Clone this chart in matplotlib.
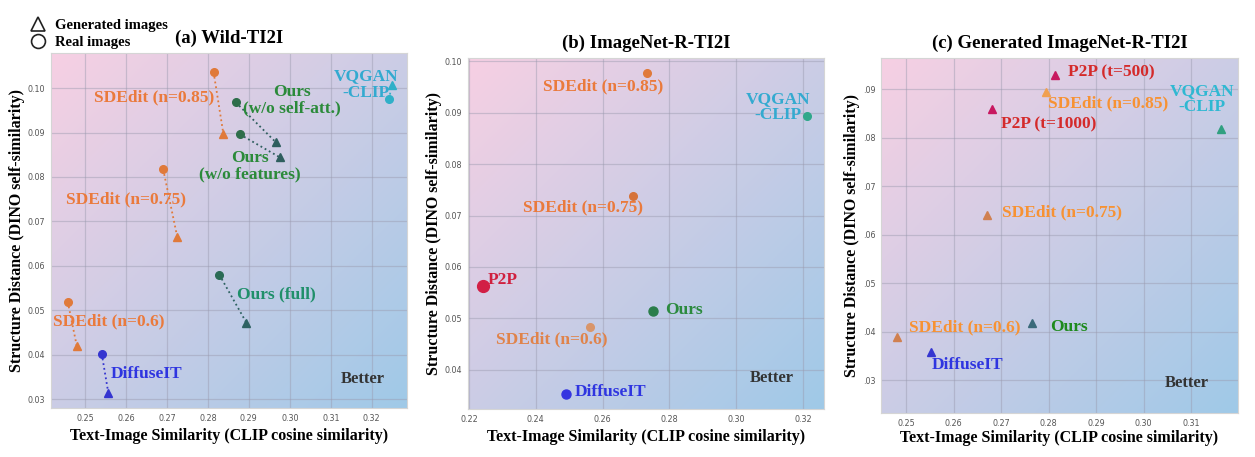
import numpy as np
import matplotlib.pyplot as plt
from matplotlib.lines import Line2D
from matplotlib.colors import to_rgb

plt.rcParams['font.family'] = ['Liberation Serif', 'DejaVu Serif']

# ---- data ----
# (a) Wild-TI2I : real (circle) and generated (triangle) for each method
a_methods = ['SDEdit (n=0.85)', 'Ours (w/o self-att.)', 'Ours (w/o features)', 'VQGAN-CLIP',
             'SDEdit (n=0.75)', 'Ours (full)', 'SDEdit (n=0.6)', 'DiffuseIT']
a_real_x = [0.2814, 0.2868, 0.2878, 0.3242, 0.2691, 0.2828, 0.2458, 0.2541]
a_real_y = [0.1036, 0.0968, 0.0896, 0.0975, 0.0817, 0.0580, 0.0519, 0.0402]
a_gen_x = [0.2838, 0.2966, 0.2976, 0.3249, 0.2725, 0.2894, 0.2480, 0.2557]
a_gen_y = [0.0896, 0.0878, 0.0844, 0.1007, 0.0666, 0.0472, 0.0420, 0.0314]

# (b) ImageNet-R-TI2I : real images only
b_methods = ['SDEdit (n=0.85)', 'VQGAN-CLIP', 'SDEdit (n=0.75)', 'P2P', 'Ours', 'SDEdit (n=0.6)', 'DiffuseIT']
b_real_x = [0.2733, 0.3212, 0.2691, 0.2242, 0.2751, 0.2562, 0.2490]
b_real_y = [0.0977, 0.0893, 0.0738, 0.0563, 0.0515, 0.0484, 0.0353]

# (c) Generated ImageNet-R-TI2I : generated images only
c_methods = ['P2P (t=500)', 'SDEdit (n=0.85)', 'P2P (t=1000)', 'VQGAN-CLIP', 'SDEdit (n=0.75)',
             'SDEdit (n=0.6)', 'Ours', 'DiffuseIT']
c_gen_x = [0.2814, 0.2795, 0.2681, 0.3163, 0.2671, 0.2481, 0.2765, 0.2553]
c_gen_y = [0.0929, 0.0894, 0.0859, 0.0818, 0.0640, 0.0389, 0.0418, 0.0358]

# ---- styles ----
a_mk = ['#e07a3a', '#2e6e4a', '#2e6e4a', '#30b0c8', '#e07a3a', '#2b6b55', '#e07a3a', '#3535d0']
a_tri = ['#e07a3a', '#2e5e5e', '#2e5e5e', '#30b0c8', '#e07a3a', '#2e6262', '#e07a3a', '#3535d0']
b_mk = ['#e07a3a', '#2fa88a', '#d6733a', '#d21f45', '#2a7d4a', '#d9956a', '#3535e0']
b_ms = [5.5, 5.5, 5.5, 8.5, 6.5, 5.5, 6.5]
c_mk = ['#c81860', '#f0a050', '#c81860', '#30a080', '#d08050', '#d08050', '#3a6a7a', '#3535d0']

orange = '#ea7a3c'
orange_c = '#f79233'
green = '#2b8a3a'
teal = '#1f8f6a'
cyan = '#33aad0'
blue = '#2f35e0'
crimson = '#d0203f'
red = '#d42a2a'

bold = dict(fontweight='bold', fontsize=12.5)

fig = plt.figure(figsize=(12.55, 4.57), dpi=100)
ax_a = fig.add_axes([0.0406, 0.1072, 0.2837, 0.7768])
ax_b = fig.add_axes([0.3729, 0.1050, 0.2837, 0.7680])
ax_c = fig.add_axes([0.7020, 0.0963, 0.2845, 0.7768])

pink = np.array(to_rgb('#f7d0e3'))
sky = np.array(to_rgb('#9fc9e8'))
u = np.linspace(0, 1, 200)
t = (u[None, :] + u[:, None]) / 2
grad = pink[None, None, :] * (1 - t[..., None]) + sky[None, None, :] * t[..., None]


def setup(ax, title, xlim, ylim, xticks, yticks, yfmt, xpad=4):
    ax.imshow(grad, extent=[0, 1, 0, 1], transform=ax.transAxes, aspect='auto', zorder=0)
    ax.set_xlim(*xlim)
    ax.set_ylim(*ylim)
    ax.set_xticks(xticks)
    ax.set_yticks(yticks)
    ax.set_xticklabels(['%.2f' % v for v in xticks], family='DejaVu Sans')
    ax.set_yticklabels([yfmt(v) for v in yticks], family='DejaVu Sans')
    ax.tick_params(labelsize=5.8, labelcolor='#555555', length=0, pad=4)
    ax.grid(color='#9a9aae', alpha=0.45, lw=0.9)
    ax.set_axisbelow(True)
    for s in ax.spines.values():
        s.set_color('#d5d5d5')
    ax.set_title(title, fontweight='bold', fontsize=13.5, pad=7)
    ax.set_xlabel('Text-Image Similarity (CLIP cosine similarity)', fontweight='bold', fontsize=11.5, labelpad=xpad)
    ax.set_ylabel('Structure Distance (DINO self-similarity)', fontweight='bold', fontsize=11.5, labelpad=2)


# ---- (a) ----
setup(ax_a, '(a) Wild-TI2I', (0.2417, 0.3286), (0.028, 0.1079),
      np.arange(0.25, 0.3201, 0.01), np.arange(0.03, 0.1001, 0.01), lambda v: '%.2f' % v)
for i in range(len(a_methods)):
    ax_a.plot([a_real_x[i], a_gen_x[i]], [a_real_y[i], a_gen_y[i]], ls=':', lw=1.3, color=a_tri[i], zorder=2)
    ax_a.plot(a_real_x[i], a_real_y[i], 'o', ms=5.5, color=a_mk[i], zorder=3)
    ax_a.plot(a_gen_x[i], a_gen_y[i], '^', ms=5.5, color=a_tri[i], zorder=3)

ax_a.text(0.2669, 0.0980, 'SDEdit (n=0.85)', color=orange, ha='center', va='center', **bold)
ax_a.text(0.3005, 0.0973, 'Ours\n(w/o self-att.)', color=green, ha='center', va='center', linespacing=1.05, **bold)
ax_a.text(0.2902, 0.0824, 'Ours\n(w/o features)', color=green, ha='center', va='center', linespacing=1.05, **bold)
ax_a.text(0.3186, 0.1008, 'VQGAN\n-CLIP', color=cyan, ha='center', va='center', linespacing=1.0, **bold)
ax_a.text(0.2600, 0.0749, 'SDEdit (n=0.75)', color=orange, ha='center', va='center', **bold)
ax_a.text(0.2968, 0.0535, 'Ours (full)', color=teal, ha='center', va='center', **bold)
ax_a.text(0.2559, 0.0476, 'SDEdit (n=0.6)', color=orange, ha='center', va='center', **bold)
ax_a.text(0.2650, 0.0357, 'DiffuseIT', color=blue, ha='center', va='center', **bold)
ax_a.text(0.3179, 0.0345, 'Better', color='#333333', ha='center', va='center', fontweight='bold', fontsize=12)

# ---- (b) ----
setup(ax_b, '(b) ImageNet-R-TI2I', (0.2197, 0.3263), (0.0324, 0.1006),
      np.arange(0.22, 0.3201, 0.02), np.arange(0.04, 0.1001, 0.01), lambda v: '%.2f' % v)
for i in range(len(b_methods)):
    ax_b.plot(b_real_x[i], b_real_y[i], 'o', ms=b_ms[i], color=b_mk[i], zorder=3)

ax_b.text(0.2601, 0.0950, 'SDEdit (n=0.85)', color=orange, ha='center', va='center', **bold)
ax_b.text(0.3125, 0.0911, 'VQGAN\n-CLIP', color=cyan, ha='center', va='center', linespacing=1.0, **bold)
ax_b.text(0.2541, 0.0715, 'SDEdit (n=0.75)', color=orange, ha='center', va='center', **bold)
ax_b.text(0.2257, 0.0575, 'P2P', color=crimson, ha='left', va='center', **bold)
ax_b.text(0.2787, 0.0517, 'Ours', color='#2b8a3e', ha='left', va='center', **bold)
ax_b.text(0.2448, 0.0460, 'SDEdit (n=0.6)', color='#e0834a', ha='center', va='center', **bold)
ax_b.text(0.2517, 0.0357, 'DiffuseIT', color=blue, ha='left', va='center', **bold)
ax_b.text(0.3107, 0.0384, 'Better', color='#333333', ha='center', va='center', fontweight='bold', fontsize=12)

# ---- (c) ----
setup(ax_c, '(c) Generated ImageNet-R-TI2I', (0.2447, 0.3199), (0.0232, 0.0964),
      np.arange(0.25, 0.3101, 0.01), np.arange(0.03, 0.0901, 0.01), lambda v: ('%.2f' % v)[1:], xpad=2)
for i in range(len(c_methods)):
    ax_c.plot(c_gen_x[i], c_gen_y[i], '^', ms=5.5, color=c_mk[i], zorder=3)

ax_c.text(0.2841, 0.0935, 'P2P (t=500)', color=red, ha='left', va='center', **bold)
ax_c.text(0.2799, 0.0871, 'SDEdit (n=0.85)', color=orange_c, ha='left', va='center', **bold)
ax_c.text(0.2700, 0.0828, 'P2P (t=1000)', color=red, ha='left', va='center', **bold)
ax_c.text(0.3123, 0.0879, 'VQGAN\n-CLIP', color='#2fb8d2', ha='center', va='center', linespacing=1.0, **bold)
ax_c.text(0.2702, 0.0646, 'SDEdit (n=0.75)', color=orange_c, ha='left', va='center', **bold)
ax_c.text(0.2506, 0.0409, 'SDEdit (n=0.6)', color=orange_c, ha='left', va='center', **bold)
ax_c.text(0.2803, 0.0409, 'Ours', color='#1e8a1e', ha='left', va='center', **bold)
ax_c.text(0.2553, 0.0331, 'DiffuseIT', color=blue, ha='left', va='center', **bold)
ax_c.text(0.3092, 0.0294, 'Better', color='#333333', ha='center', va='center', fontweight='bold', fontsize=12)

# ---- marker legend ----
handles = [Line2D([], [], ls='none', marker='^', ms=10, mfc='none', mec='#222222', mew=1.2),
           Line2D([], [], ls='none', marker='o', ms=10, mfc='none', mec='#222222', mew=1.2)]
fig.legend(handles, ['Generated images', 'Real images'], loc='upper left', bbox_to_anchor=(0.014, 0.985),
           frameon=False, prop=dict(weight='bold', size=10.5), handlelength=1.2, handletextpad=0.6,
           labelspacing=0.3, borderpad=0.3)

fig.savefig('out.png', dpi=100)
